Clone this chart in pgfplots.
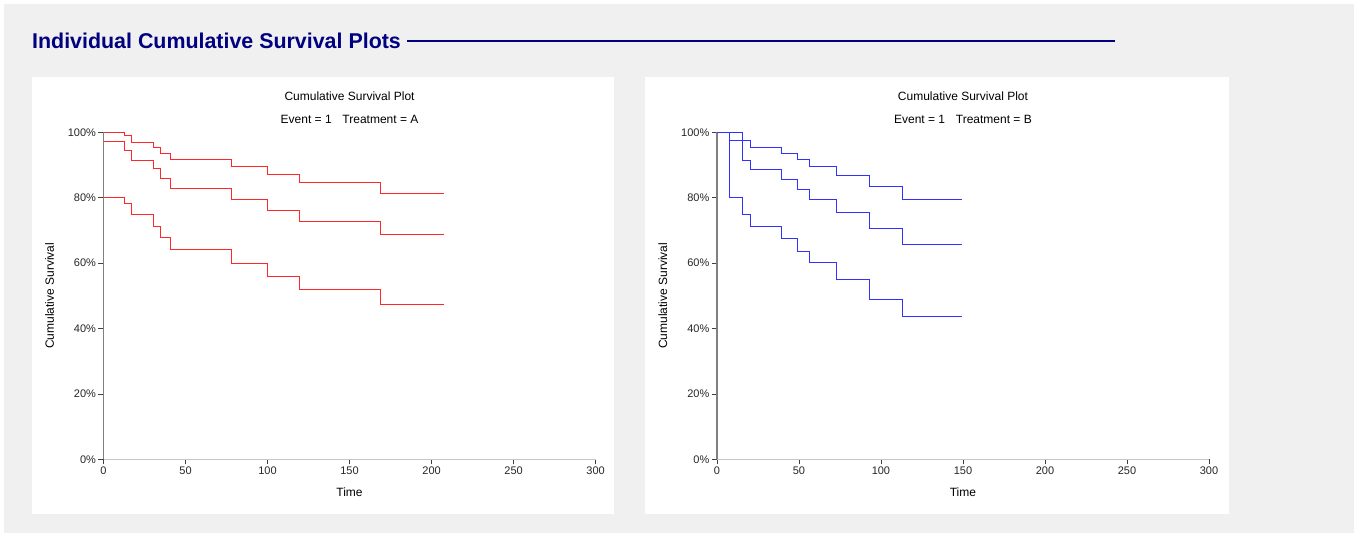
\documentclass[border=0pt]{standalone}
\usepackage{pgfplots}
\pgfplotsset{compat=1.18}
\usepackage{fontspec}
\setmainfont{Liberation Sans}
\definecolor{bggray}{RGB}{240,240,240}
\definecolor{navyt}{RGB}{0,0,128}
\definecolor{survred}{RGB}{255,40,40}
\definecolor{survblue}{RGB}{50,50,255}
\pgfplotsset{
  survaxis/.style={
    scale only axis, width=492.1pt, height=327pt,
    anchor=south west,
    xmin=0, xmax=300, ymin=0, ymax=100,
    axis x line*=bottom, axis y line*=left,
    xtick={0,50,...,300}, ytick={0,20,...,100},
    yticklabel={\pgfmathprintnumber{\tick}\%},
    /pgf/number format/assume math mode=true,
    tick align=outside, major tick length=5pt,
    tick style={black!75, line width=0.7pt},
    x axis line style={black!22, line width=1.3pt},
    y axis line style={black!50, line width=1.6pt},
    ticklabel style={font=\fontsize{11}{13}\selectfont, text=black!85},
    xticklabel style={yshift=1pt},
    yticklabel style={xshift=1pt},
    xlabel={Time}, ylabel={Cumulative Survival},
    label style={font=\fontsize{12}{14}\selectfont},
    x label style={at={(axis description cs:0.5,0)}, anchor=center, yshift=-33pt},
    y label style={at={(axis description cs:0,0.5)}, anchor=center, yshift=54pt},
    clip=false,
  }
}
\begin{document}
\begin{tikzpicture}[x=1pt,y=1pt]
\fill[white] (0,0) rectangle (1354,533);
\fill[bggray] (4,0) rectangle (1354,529);
\fill[white] (32,19) rectangle (614,456);
\fill[white] (645,19) rectangle (1229,456);
\node[anchor=base west, inner sep=0pt, text=navyt, font=\fontsize{21.4}{24}\selectfont\bfseries] at (32,484) {Individual Cumulative Survival Plots};
\draw[navyt, line width=2pt] (407,492) -- (1115,492);

% Treatment A
\begin{axis}[survaxis, at={(103.5pt,73.7pt)}]
\node[font=\fontsize{12}{14}\selectfont] at (axis description cs:0.5,1.11) {Cumulative Survival Plot};
\node[font=\fontsize{12}{14}\selectfont] at (axis description cs:0.5,1.04) {Event = 1\hspace{0.9em}Treatment = A};
\addplot[const plot, survred, line width=1pt] coordinates {
(0,100) (13.1,98.9) (17.2,97.0) (30.2,95.4) (34.5,93.6) (41.0,91.7) (78.2,89.6) (100.1,87.2) (119.2,84.6) (168.8,81.4) (207.4,81.4)};
\addplot[const plot, survred, line width=1pt] coordinates {
(0,97.3) (13.1,94.3) (17.2,91.4) (30.2,88.8) (34.5,85.8) (41.0,82.9) (78.2,79.5) (100.1,76.0) (119.2,72.8) (168.8,68.8) (207.4,68.8)};
\addplot[const plot, survred, line width=1pt] coordinates {
(0,80.2) (13.1,78.1) (17.2,74.8) (30.2,71.2) (34.5,67.9) (41.0,64.2) (78.2,59.9) (100.1,56.0) (119.2,51.9) (168.8,47.2) (207.4,47.2)};
\end{axis}

% Treatment B
\begin{axis}[survaxis, at={(716.9pt,73.7pt)}]
\node[font=\fontsize{12}{14}\selectfont] at (axis description cs:0.5,1.11) {Cumulative Survival Plot};
\node[font=\fontsize{12}{14}\selectfont] at (axis description cs:0.5,1.04) {Event = 1\hspace{0.9em}Treatment = B};
\addplot[const plot, survblue, line width=1pt] coordinates {
(0,100) (15.5,97.4) (20.4,95.4) (39.5,93.6) (49.0,91.7) (56.2,89.4) (73.0,86.8) (92.9,83.4) (113.0,79.6) (149.3,79.6)};
\addplot[const plot, survblue, line width=1pt] coordinates {
(0,100) (7.6,97.4) (15.5,91.4) (20.4,88.5) (39.5,85.6) (49.0,82.4) (56.2,79.4) (73.0,75.6) (92.9,70.7) (113.0,65.8) (149.3,65.8)};
\addplot[const plot, survblue, line width=1pt] coordinates {
(0,100) (7.6,80.1) (15.5,74.8) (20.4,71.1) (39.5,67.5) (49.0,63.7) (56.2,60.1) (73.0,55.0) (92.9,48.9) (113.0,43.6) (149.3,43.6)};
\end{axis}
\end{tikzpicture}
\end{document}
